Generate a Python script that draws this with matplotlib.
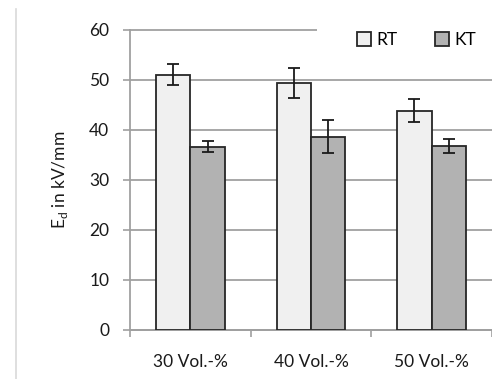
import numpy as np
import matplotlib.pyplot as plt
from matplotlib.patches import Rectangle
from matplotlib.lines import Line2D

plt.rcParams['font.family'] = ['Lato', 'DejaVu Sans']

# Daten
kategorien = ['30 Vol.-%', '40 Vol.-%', '50 Vol.-%']
rt_werte = [51.1, 49.5, 43.9]
rt_fehler = [2.1, 3.0, 2.3]
kt_werte = [36.7, 38.7, 36.9]
kt_fehler = [1.1, 3.2, 1.4]
serien = ['RT', 'KT']

fig = plt.figure(figsize=(4.92, 3.79), dpi=100)
ax = fig.add_axes([130 / 492, 1 - 330 / 379, 1 - 130 / 492, 300 / 379])

x = np.arange(len(kategorien))
b = 0.285
ax.bar(x - b / 2, rt_werte, b, color='#f0f0f0', edgecolor='#262626', linewidth=1.3,
       label=serien[0], zorder=3)
ax.bar(x + b / 2, kt_werte, b, color='#b2b2b2', edgecolor='#262626', linewidth=1.3,
       label=serien[1], zorder=3)
ax.errorbar(x - b / 2, rt_werte, yerr=rt_fehler, fmt='none', ecolor='#1a1a1a',
            elinewidth=1.3, capsize=4, capthick=1.3, zorder=4)
ax.errorbar(x + b / 2, kt_werte, yerr=kt_fehler, fmt='none', ecolor='#1a1a1a',
            elinewidth=1.3, capsize=4, capthick=1.3, zorder=4)

ax.set_xlim(-0.5, -0.5 + 362 / 123)
ax.set_ylim(0, 60)
ax.set_yticks(range(0, 61, 10))
ax.yaxis.grid(True, color='#a0a0a0', linewidth=1.3, zorder=0)
for yl in ax.get_ygridlines():
    yl.set_clip_on(False)
ax.set_axisbelow(True)

ax.set_xticks(x)
ax.set_xticklabels(kategorien, fontsize=12.5, color='#1a1a1a')
ax.tick_params(axis='x', length=0, pad=17)
ax.set_xticks(np.arange(-0.5, 3, 1), minor=True)
ax.tick_params(axis='x', which='minor', length=5, color='#a0a0a0', width=1.2)
ax.tick_params(axis='y', length=5, color='#a0a0a0', width=1.2, labelsize=12.5,
               labelcolor='#1a1a1a', pad=10)

for s in ['top', 'right']:
    ax.spines[s].set_visible(False)
for s in ['left', 'bottom']:
    ax.spines[s].set_color('#a0a0a0')
    ax.spines[s].set_linewidth(1.3)

ax.set_ylabel('E$_\\mathregular{d}$ in kV/mm', fontsize=12.5, color='#1a1a1a', labelpad=14)

# weisser Hintergrund fuer die Legende
ax.add_patch(Rectangle(((317 - 130) / 362, 0.97), 1, 0.1, transform=ax.transAxes,
                       facecolor='white', edgecolor='none', zorder=5, clip_on=False))
leg = ax.legend(loc='center left', bbox_to_anchor=((350 - 130) / 362, 1 - 10 / 300),
                ncol=2, frameon=False, fontsize=12.5, handlelength=0.8, handleheight=0.8,
                handletextpad=0.3, columnspacing=2.2, borderaxespad=0)
leg.set_zorder(6)

# Rahmen links
fig.add_artist(Line2D([16 / 492, 16 / 492], [0, 1 - 9 / 379], transform=fig.transFigure,
                      color='#d9d9d9', linewidth=1.2))

fig.savefig('out.png', dpi=100)
